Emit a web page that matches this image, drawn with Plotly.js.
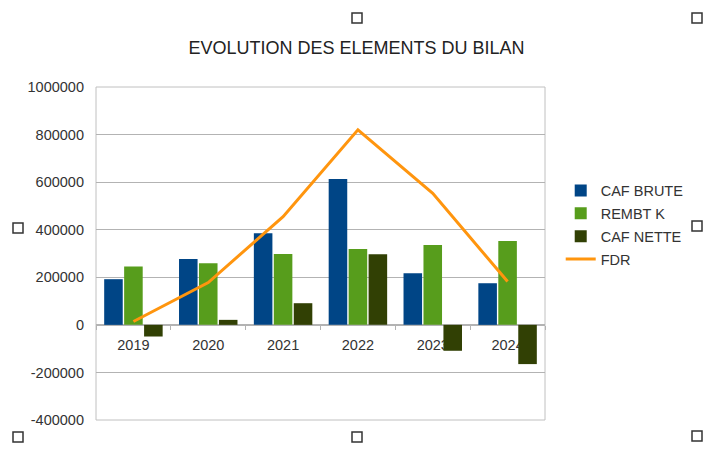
<!DOCTYPE html>
<html>
<head>
<meta charset="utf-8">
<script src="https://cdn.plot.ly/plotly-3.0.1.min.js"></script>
<style>html,body{margin:0;padding:0;background:#fff;}#chart{width:710px;height:464px;}</style>
</head>
<body>
<div id="chart"></div>
<script>
// ---- data ----
const years = ['2019', '2020', '2021', '2022', '2023', '2024'];
const cafBrute = [192000, 277000, 385000, 613000, 217000, 175000];
const rembtK = [245000, 259000, 298000, 319000, 336000, 353000];
const cafNette = [-49000, 21000, 91000, 297000, -109000, -165000];
const fdr = [14000, 178000, 455000, 820000, 553000, 182000];
const yTickVals = [-400000, -200000, 0, 200000, 400000, 600000, 800000, 1000000];
const yTickText = ['-400000', '-200000', '0', '200000', '400000', '600000', '800000', '1000000'];

const FONT = 'Liberation Sans, Arial, sans-serif';
const traces = [
  {type: 'bar', name: 'CAF BRUTE', legendgroup: 'a', x: years, y: cafBrute, marker: {color: '#004586'}},
  {type: 'bar', name: 'REMBT K', legendgroup: 'b', x: years, y: rembtK, marker: {color: '#579d1c'}},
  {type: 'bar', name: 'CAF NETTE', legendgroup: 'c', x: years, y: cafNette, marker: {color: '#314004'}},
  {type: 'scatter', mode: 'lines', name: 'FDR', legendgroup: 'd', x: years, y: fdr, line: {color: '#ff950e', width: 3}}
];

const yMin = yTickVals[0], yMax = yTickVals[yTickVals.length - 1];
const zeroPos = (0 - yMin) / (yMax - yMin);

// selection handles seen on the scanned picture (pixel positions converted to paper units)
const L = 96, T = 87, W = 449, H = 333;
const handlePx = [[357, 18], [697, 18], [18, 228], [697, 226], [18, 437], [357, 437], [697, 436]];
const handles = handlePx.map(([px, py]) => ({
  type: 'rect', xref: 'paper', yref: 'paper',
  x0: (px - 5 - L) / W, x1: (px + 5 - L) / W,
  y0: (T + H - (py + 5)) / H, y1: (T + H - (py - 5)) / H,
  line: {color: '#333333', width: 1.5}, fillcolor: 'rgba(0,0,0,0)'
}));

const layout = {
  width: 710, height: 464,
  margin: {l: L, r: 710 - L - W, t: T, b: 464 - T - H},
  paper_bgcolor: '#ffffff', plot_bgcolor: '#ffffff',
  font: {family: FONT, size: 14.5, color: '#333333'},
  title: {text: 'EVOLUTION DES ELEMENTS DU BILAN', font: {family: FONT, size: 18, color: '#222222'},
          x: 0.502, xanchor: 'center', y: 0.898, yanchor: 'middle', xref: 'container', yref: 'container'},
  barmode: 'group', bargap: 0.2, bargroupgap: 0.07,
  showlegend: true,
  legend: {x: 1.035, xanchor: 'left', y: 0.737, yanchor: 'top', font: {family: FONT, size: 14.5, color: '#333333'},
           bgcolor: 'rgba(0,0,0,0)', traceorder: 'grouped', tracegroupgap: 1},
  xaxis: {type: 'category', anchor: 'free', position: zeroPos, showline: true, linecolor: '#b3b3b3', linewidth: 1,
          ticks: 'outside', ticklen: 4, tickcolor: '#b3b3b3', tickson: 'boundaries', showgrid: false,
          ticklabelstandoff: 7,
          tickfont: {family: FONT, size: 14.5, color: '#333333'}, layer: 'below traces', fixedrange: true},
  yaxis: {range: [yMin, yMax], tickvals: yTickVals, ticktext: yTickText, showgrid: true, gridcolor: '#b3b3b3',
          gridwidth: 1, zeroline: false, showline: false, ticks: '', ticklabelstandoff: 11,
          tickfont: {family: FONT, size: 14.5, color: '#333333'}},
  shapes: [
    {type: 'rect', xref: 'paper', yref: 'paper', x0: 0, x1: 1, y0: 0, y1: 1, line: {color: '#c0c0c0', width: 1}, layer: 'below'}
  ].concat(handles)
};

Plotly.newPlot('chart', traces, layout, {staticPlot: true, displayModeBar: false});
</script>
</body>
</html>
